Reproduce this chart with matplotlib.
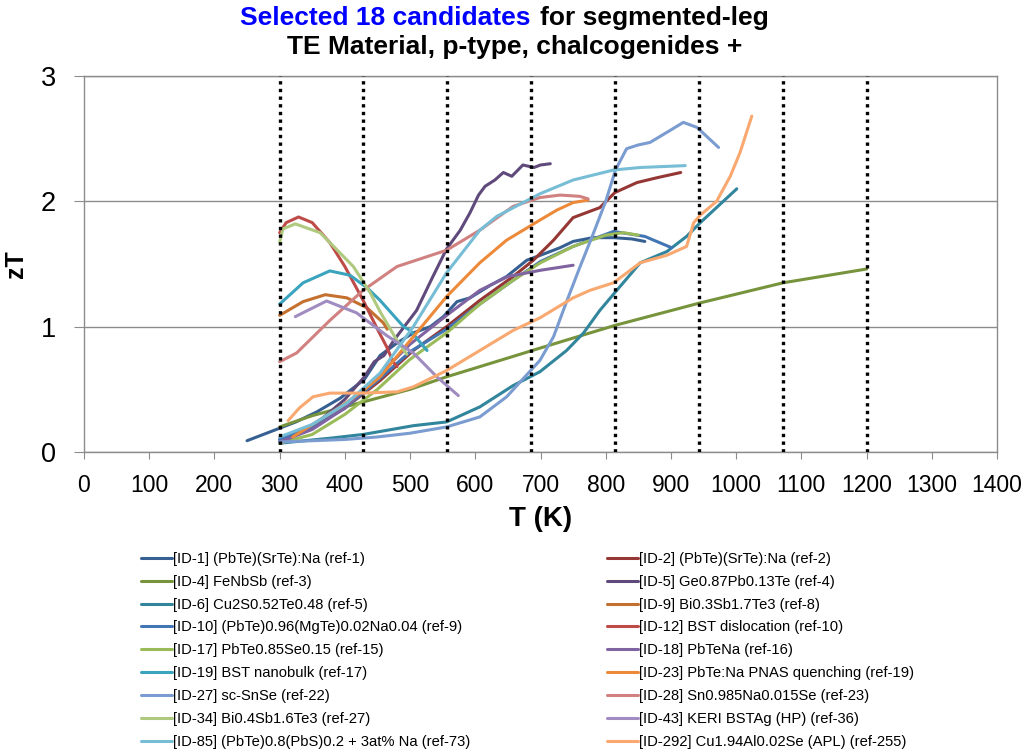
import matplotlib
matplotlib.use("Agg")
import matplotlib.pyplot as plt
import numpy as np

plt.rcParams['font.family'] = ['Liberation Sans', 'DejaVu Sans']

# zT vs temperature for each candidate material: (label, colour, T, zT)
t_id1 = [250, 275, 300, 325, 357, 393, 430, 454, 480, 505, 531, 551, 572, 592, 623, 648, 679, 700, 730, 750, 780, 812, 840, 860]
z_id1 = [0.09, 0.14, 0.19, 0.24, 0.32, 0.43, 0.58, 0.77, 0.87, 0.95, 1.0, 1.08, 1.2, 1.23, 1.33, 1.4, 1.53, 1.57, 1.63, 1.68, 1.71, 1.71, 1.70, 1.68]

t_id2 = [300, 350, 400, 454, 505, 556, 607, 658, 689, 720, 750, 791, 814, 848, 880, 915]
z_id2 = [0.08, 0.2, 0.35, 0.57, 0.81, 1.0, 1.21, 1.4, 1.53, 1.69, 1.87, 1.95, 2.07, 2.15, 2.19, 2.23]

t_id4 = [300, 350, 400, 450, 500, 556, 600, 700, 814, 945, 1072, 1200]
z_id4 = [0.2, 0.29, 0.36, 0.43, 0.5, 0.6, 0.67, 0.83, 1.01, 1.19, 1.35, 1.46]

t_id5 = [300, 350, 400, 430, 445, 460, 475, 510, 535, 556, 577, 592, 605, 615, 630, 643, 656, 673, 690, 700, 715]
z_id5 = [0.1, 0.2, 0.42, 0.6, 0.72, 0.77, 0.89, 1.13, 1.4, 1.62, 1.77, 1.91, 2.05, 2.12, 2.17, 2.23, 2.2, 2.29, 2.27, 2.29, 2.3]

t_id6 = [300, 377, 428, 505, 556, 607, 658, 699, 740, 766, 791, 817, 853, 894, 924, 945, 1001]
z_id6 = [0.07, 0.11, 0.14, 0.21, 0.24, 0.36, 0.53, 0.64, 0.81, 0.95, 1.13, 1.29, 1.51, 1.6, 1.72, 1.83, 2.1]

t_id9 = [300, 336, 370, 403, 434, 459, 465]
z_id9 = [1.09, 1.2, 1.255, 1.23, 1.15, 1.03, 0.98]

t_id10 = [300, 350, 400, 450, 500, 556, 607, 658, 700, 750, 812, 860, 901]
z_id10 = [0.1, 0.2, 0.35, 0.57, 0.8, 0.98, 1.18, 1.37, 1.52, 1.64, 1.76, 1.72, 1.63]

t_id12 = [300, 310, 329, 350, 377, 400, 428, 450, 464, 474, 480]
z_id12 = [1.75, 1.83, 1.875, 1.83, 1.67, 1.48, 1.21, 0.98, 0.84, 0.72, 0.68]

t_id17 = [300, 350, 400, 450, 500, 556, 607, 658, 700, 750, 800, 827, 850]
z_id17 = [0.07, 0.14, 0.3, 0.5, 0.74, 0.95, 1.18, 1.37, 1.51, 1.64, 1.73, 1.75, 1.73]

t_id18 = [300, 350, 400, 450, 500, 556, 607, 650, 700, 750]
z_id18 = [0.08, 0.18, 0.35, 0.6, 0.86, 1.09, 1.29, 1.4, 1.45, 1.49]

t_id19 = [300, 336, 377, 408, 434, 454, 490, 500, 526]
z_id19 = [1.18, 1.35, 1.445, 1.41, 1.31, 1.21, 1.0, 0.97, 0.81]

t_id23 = [320, 393, 428, 454, 505, 556, 607, 648, 699, 725, 750, 773]
z_id23 = [0.12, 0.36, 0.49, 0.6, 0.92, 1.24, 1.51, 1.69, 1.85, 1.93, 1.99, 2.01]

t_id27 = [300, 350, 400, 450, 500, 556, 607, 648, 699, 720, 740, 760, 780, 800, 815, 832, 850, 868, 900, 919, 940, 973]
z_id27 = [0.08, 0.09, 0.1, 0.12, 0.15, 0.2, 0.28, 0.44, 0.73, 0.92, 1.2, 1.47, 1.73, 2.0, 2.25, 2.42, 2.45, 2.47, 2.57, 2.63, 2.59, 2.43]

t_id28 = [300, 326, 377, 428, 480, 556, 607, 658, 699, 730, 760, 773]
z_id28 = [0.72, 0.79, 1.05, 1.29, 1.48, 1.61, 1.77, 1.96, 2.03, 2.05, 2.04, 2.02]

t_id34 = [300, 305, 324, 362, 413, 439, 454, 480, 495]
z_id34 = [1.67, 1.78, 1.82, 1.75, 1.48, 1.27, 1.12, 0.89, 0.78]

t_id43 = [324, 372, 418, 464, 505, 541, 574]
z_id43 = [1.08, 1.205, 1.11, 0.93, 0.79, 0.6, 0.45]

t_id85 = [300, 350, 403, 454, 505, 556, 607, 633, 699, 750, 812, 853, 922]
z_id85 = [0.12, 0.22, 0.39, 0.63, 1.0, 1.43, 1.77, 1.88, 2.06, 2.17, 2.25, 2.27, 2.285]

t_id292 = [313, 330, 351, 377, 428, 480, 505, 556, 607, 658, 699, 750, 776, 812, 853, 894, 924, 935, 945, 970, 991, 1006, 1024]
z_id292 = [0.25, 0.35, 0.44, 0.47, 0.47, 0.48, 0.52, 0.65, 0.81, 0.97, 1.07, 1.23, 1.29, 1.35, 1.51, 1.57, 1.64, 1.83, 1.89, 2.0, 2.2, 2.39, 2.68]

series = [
    ("[ID-1] (PbTe)(SrTe):Na (ref-1)", "#376092", t_id1, z_id1),
    ("[ID-2] (PbTe)(SrTe):Na (ref-2)", "#953735", t_id2, z_id2),
    ("[ID-4] FeNbSb (ref-3)", "#77933c", t_id4, z_id4),
    ("[ID-5] Ge0.87Pb0.13Te (ref-4)", "#604a7b", t_id5, z_id5),
    ("[ID-6] Cu2S0.52Te0.48 (ref-5)", "#31859c", t_id6, z_id6),
    ("[ID-9] Bi0.3Sb1.7Te3 (ref-8)", "#c4702f", t_id9, z_id9),
    ("[ID-10] (PbTe)0.96(MgTe)0.02Na0.04 (ref-9)", "#4275b4", t_id10, z_id10),
    ("[ID-12] BST dislocation (ref-10)", "#be4b48", t_id12, z_id12),
    ("[ID-17] PbTe0.85Se0.15 (ref-15)", "#9bbb59", t_id17, z_id17),
    ("[ID-18] PbTeNa (ref-16)", "#8064a2", t_id18, z_id18),
    ("[ID-19] BST nanobulk (ref-17)", "#3aa3bd", t_id19, z_id19),
    ("[ID-23] PbTe:Na PNAS quenching (ref-19)", "#ec8a3a", t_id23, z_id23),
    ("[ID-27] sc-SnSe (ref-22)", "#7a9cd0", t_id27, z_id27),
    ("[ID-28] Sn0.985Na0.015Se (ref-23)", "#d08180", t_id28, z_id28),
    ("[ID-34] Bi0.4Sb1.6Te3 (ref-27)", "#afc97f", t_id34, z_id34),
    ("[ID-43] KERI BSTAg (HP) (ref-36)", "#a08cc0", t_id43, z_id43),
    ("[ID-85] (PbTe)0.8(PbS)0.2 + 3at% Na (ref-73)", "#77bdd5", t_id85, z_id85),
    ("[ID-292] Cu1.94Al0.02Se (APL) (ref-255)", "#f9a870", t_id292, z_id292),
]

# boundaries of the temperature segments, 300 K .. 1200 K in 7 equal steps
segment_edges = np.linspace(300, 1200, 8)

fig = plt.figure(figsize=(10.26, 7.55), dpi=100)
ax = fig.add_axes([84 / 1026, 1 - 452 / 755, 913 / 1026, 376 / 755])

handles = []
for label, color, t, z in series:
    h, = ax.plot(t, z, color=color, lw=2.2, solid_capstyle='round',
                 solid_joinstyle='round', label=label, zorder=2)
    handles.append(h)

for edge in segment_edges:
    ax.axvline(edge, color='black', lw=2.4, ls=(0, (1, 1.3)), zorder=3)

ax.set_xlim(0, 1400)
ax.set_ylim(0, 3)
ax.set_xticks(np.arange(0, 1401, 100))
ax.set_yticks([0, 1, 2, 3])
ax.yaxis.grid(True, color='#8c8c8c', lw=1.0)
ax.set_axisbelow(True)
for side in ax.spines.values():
    side.set_color('#8c8c8c')
    side.set_linewidth(1.0)
ax.tick_params(axis='x', labelsize=16.5, color='#8c8c8c', length=5, pad=11)
ax.tick_params(axis='y', labelsize=19.5, color='#8c8c8c', length=7, pad=13)
ax.set_xlabel("T (K)", fontsize=20, fontweight='bold', labelpad=6)
ax.set_ylabel("zT", fontsize=18, fontweight='bold')
ax.yaxis.set_label_coords(-0.061, 0.5)

# two-colour first title line
y1 = 1 - 25 / 755
fig.text(530 / 1026, y1, "Selected 18 candidates", color='#0000ff',
         fontsize=19, fontweight='bold', ha='right', va='baseline')
fig.text(540 / 1026, y1, "for segmented-leg", color='black',
         fontsize=19, fontweight='bold', ha='left', va='baseline')
fig.text(515 / 1026, 1 - 54 / 755, "TE Material, p-type, chalcogenides +",
         color='black', fontsize=19, fontweight='bold', ha='center', va='baseline')

# legend laid out row by row in two columns
left = handles[0::2]
right = handles[1::2]
for hs, x0 in ((left, 141), (right, 607)):
    fig.legend(handles=hs, labels=[h.get_label() for h in hs], loc='upper left',
               bbox_to_anchor=(x0 / 1026, 1 - 552 / 755), frameon=False,
               fontsize=10.6, handlelength=2.1, handletextpad=0.1,
               labelspacing=0.6, borderpad=0, borderaxespad=0)

fig.savefig("out.png", dpi=100)
